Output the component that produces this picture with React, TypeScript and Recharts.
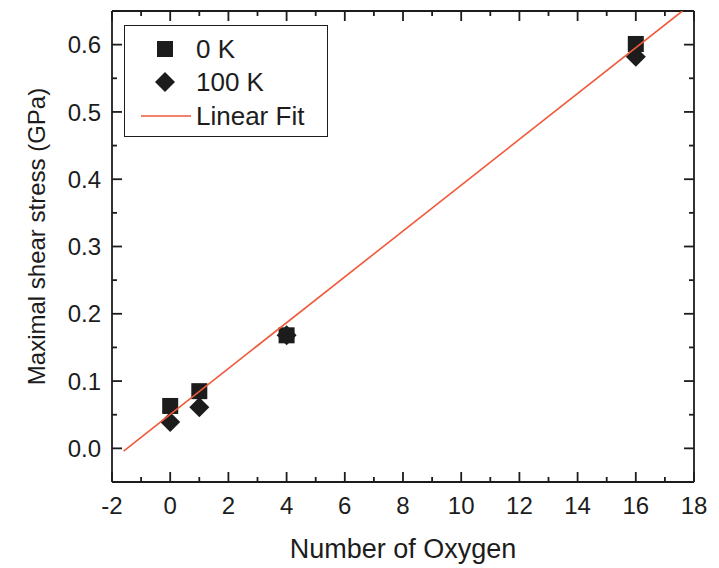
import React from 'react';
import { ScatterChart, Scatter, XAxis, YAxis, Legend } from 'recharts';

const FONT = '"Liberation Sans", Arial, Helvetica, sans-serif';
const INK = '#1c1c1c';
const FIT_COLOR = '#f0593a';

// ---- data ----
const oxygen0K = [0, 1, 4, 16];
const stress0K = [0.063, 0.085, 0.168, 0.601];
const oxygen100K = [0, 1, 4, 16];
const stress100K = [0.039, 0.061, 0.168, 0.582];
const fitX = [-1.6, 17.6];
const fitY = [-0.004, 0.65];

const seriesNames = ['0 K', '100 K', 'Linear Fit'];
const xTitle = 'Number of Oxygen';
const yTitle = 'Maximal shear stress (GPa)';

const xMajorTicks = [-2, 0, 2, 4, 6, 8, 10, 12, 14, 16, 18];
const xMinorTicks = [-1, 1, 3, 5, 7, 9, 11, 13, 15, 17];
const yMajorTicks = [0, 0.1, 0.2, 0.3, 0.4, 0.5, 0.6];
const yMinorTicks = [-0.05, 0.05, 0.15, 0.25, 0.35, 0.45, 0.55, 0.65];
const xDomain: [number, number] = [-2, 18];
const yDomain: [number, number] = [-0.05, 0.65];

// ---- derived ----
const data0K = oxygen0K.map((x, i) => ({ x, y: stress0K[i] }));
const data100K = oxygen100K.map((x, i) => ({ x, y: stress100K[i] }));
const fitData = fitX.map((x, i) => ({ x, y: fitY[i] }));
const xTicks = [...xMajorTicks, ...xMinorTicks].sort((a, b) => a - b);
const yTicks = [...yMajorTicks, ...yMinorTicks].sort((a, b) => a - b);

const isMajor = (v: number, majors: number[]) => majors.some((m) => Math.abs(m - v) < 1e-9);

const MAJOR = 10;
const MINOR = 5;
const SW = 1.8;
const TICK_FS = 24;

const BottomTick = (p: any) => {
  const major = isMajor(p.payload.value, xMajorTicks);
  return (
    <g>
      <line x1={p.x} x2={p.x} y1={p.y} y2={p.y - (major ? MAJOR : MINOR)} stroke={INK} strokeWidth={SW} />
      {major && (
        <text x={p.x} y={p.y + 31.6} textAnchor="middle" fontFamily={FONT} fontSize={TICK_FS} fill={INK}>
          {String(p.payload.value)}
        </text>
      )}
    </g>
  );
};

const TopTick = (p: any) => {
  const major = isMajor(p.payload.value, xMajorTicks);
  return <line x1={p.x} x2={p.x} y1={p.y} y2={p.y + (major ? MAJOR : MINOR)} stroke={INK} strokeWidth={SW} />;
};

const LeftTick = (p: any) => {
  const major = isMajor(p.payload.value, yMajorTicks);
  return (
    <g>
      <line x1={p.x} x2={p.x + (major ? MAJOR : MINOR)} y1={p.y} y2={p.y} stroke={INK} strokeWidth={SW} />
      {major && (
        <text x={p.x - 11} y={p.y + 8.6} textAnchor="end" fontFamily={FONT} fontSize={TICK_FS} fill={INK}>
          {Number(p.payload.value).toFixed(1)}
        </text>
      )}
    </g>
  );
};

const RightTick = (p: any) => {
  const major = isMajor(p.payload.value, yMajorTicks);
  return <line x1={p.x} x2={p.x - (major ? MAJOR : MINOR)} y1={p.y} y2={p.y} stroke={INK} strokeWidth={SW} />;
};

const SquareShape = (p: any) => (
  <rect x={p.cx - 8} y={p.cy - 8} width={16} height={16} fill={INK} />
);
const DiamondShape = (p: any) => (
  <polygon
    points={`${p.cx},${p.cy - 10} ${p.cx + 10},${p.cy} ${p.cx},${p.cy + 10} ${p.cx - 10},${p.cy}`}
    fill={INK}
  />
);
const NoShape = () => <g />;

const renderXTitle = (props: any) => {
  const vb = props.viewBox || { x: 112, y: 482, width: 582, height: 86 };
  return (
    <text x={vb.x + vb.width / 2} y={vb.y + 76} textAnchor="middle" fontFamily={FONT} fontSize={27} fill={INK}>
      {xTitle}
    </text>
  );
};

const renderYTitle = (props: any) => {
  const vb = props.viewBox || { x: 0, y: 11, width: 112, height: 471 };
  const cx = 45;
  const cy = vb.y + vb.height / 2 - 10;
  return (
    <text x={cx} y={cy} transform={`rotate(-90 ${cx} ${cy})`} textAnchor="middle" fontFamily={FONT} fontSize={24} fill={INK}>
      {yTitle}
    </text>
  );
};

const LegendBox = () => {
  const rows = [23.4, 56.4, 90.4];
  return (
    <div
      style={{
        position: 'relative',
        width: 204,
        height: 112,
        boxSizing: 'border-box',
        border: `1.6px solid ${INK}`,
        background: '#fff',
        fontFamily: FONT,
        fontSize: 26,
        color: INK,
      }}
    >
      <svg style={{ position: 'absolute', left: 30.4, top: rows[0] - 10 }} width={20} height={20}>
        <rect x={2} y={2} width={16} height={16} fill={INK} />
      </svg>
      <svg style={{ position: 'absolute', left: 30.4, top: rows[1] - 10 }} width={20} height={20}>
        <polygon points="10,0 20,10 10,20 0,10" fill={INK} />
      </svg>
      <svg style={{ position: 'absolute', left: 16.4, top: rows[2] - 5 }} width={50} height={10}>
        <line x1={0} x2={50} y1={5} y2={5} stroke={FIT_COLOR} strokeWidth={1.6} />
      </svg>
      {seriesNames.map((name, i) => (
        <div
          key={name}
          style={{ position: 'absolute', left: 71, top: rows[i] - 15, lineHeight: '30px', whiteSpace: 'nowrap' }}
        >
          {name}
        </div>
      ))}
    </div>
  );
};

export default function App() {
  return (
    <div style={{ position: 'absolute', left: 0, top: 0, width: 719, height: 568, background: '#fff' }}>
      <ScatterChart width={719} height={568} margin={{ top: 10, right: 24, bottom: 0, left: 0 }}>
        <XAxis
          xAxisId={0}
          type="number"
          dataKey="x"
          domain={xDomain}
          allowDataOverflow
          ticks={xTicks}
          interval={0}
          height={86}
          tickSize={0}
          tickMargin={0}
          tickLine={false}
          axisLine={{ stroke: INK, strokeWidth: SW }}
          tick={BottomTick}
          label={renderXTitle}
        />
        <XAxis
          xAxisId="top"
          orientation="top"
          type="number"
          dataKey="x"
          domain={xDomain}
          allowDataOverflow
          ticks={xTicks}
          interval={0}
          height={1}
          tickSize={0}
          tickMargin={0}
          tickLine={false}
          axisLine={{ stroke: INK, strokeWidth: SW }}
          tick={TopTick}
        />
        <YAxis
          yAxisId={0}
          type="number"
          dataKey="y"
          domain={yDomain}
          allowDataOverflow
          ticks={yTicks}
          interval={0}
          width={112}
          tickSize={0}
          tickMargin={0}
          tickLine={false}
          axisLine={{ stroke: INK, strokeWidth: SW }}
          tick={LeftTick}
          label={renderYTitle}
        />
        <YAxis
          yAxisId="right"
          orientation="right"
          type="number"
          dataKey="y"
          domain={yDomain}
          allowDataOverflow
          ticks={yTicks}
          interval={0}
          width={1}
          tickSize={0}
          tickMargin={0}
          tickLine={false}
          axisLine={{ stroke: INK, strokeWidth: SW }}
          tick={RightTick}
        />
        <Legend
          layout="horizontal"
          align="center"
          verticalAlign="middle"
          wrapperStyle={{ left: 124, top: 25, width: 204, height: 112 }}
          content={() => <LegendBox />}
        />
        <Scatter
          name="mirror"
          xAxisId="top"
          yAxisId="right"
          data={fitData}
          shape={NoShape}
          legendType="none"
          isAnimationActive={false}
        />
        <Scatter name={seriesNames[0]} data={data0K} shape={SquareShape} isAnimationActive={false} />
        <Scatter name={seriesNames[1]} data={data100K} shape={DiamondShape} isAnimationActive={false} />
        <Scatter
          name={seriesNames[2]}
          data={fitData}
          shape={NoShape}
          line={{ stroke: FIT_COLOR, strokeWidth: 1.6 }}
          isAnimationActive={false}
        />
      </ScatterChart>
    </div>
  );
}
